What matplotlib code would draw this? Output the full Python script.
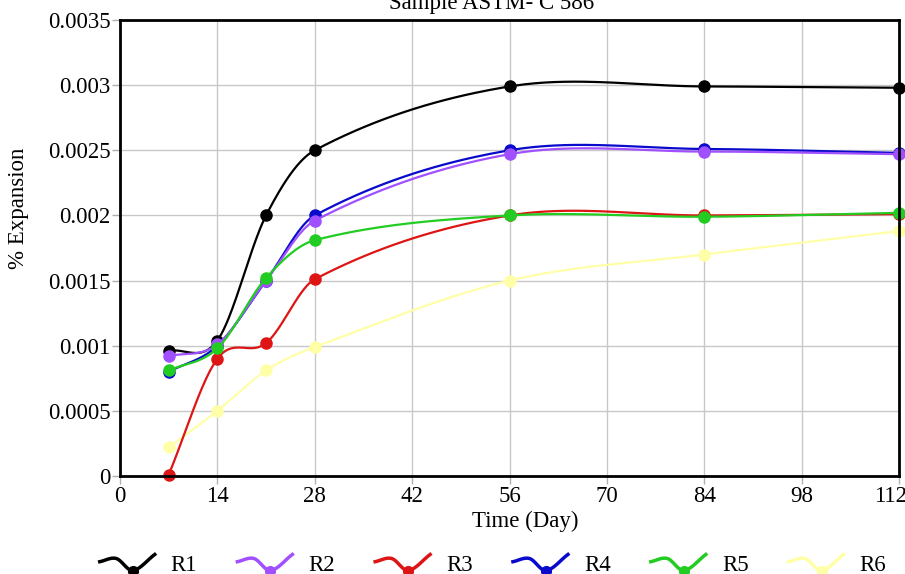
import numpy as np
import matplotlib.pyplot as plt
from matplotlib.lines import Line2D
from matplotlib.legend_handler import HandlerBase
from matplotlib.transforms import ScaledTranslation

plt.rcParams['font.family'] = ['Liberation Serif', 'DejaVu Serif']

days = [7, 14, 21, 28, 56, 84, 112]
r1 = [0.00096, 0.00104, 0.0020, 0.0025, 0.00299, 0.00299, 0.00298]
r2 = [0.00092, 0.00101, 0.00150, 0.00196, 0.00247, 0.00249, 0.00247]
r3 = [0.00001, 0.00090, 0.00102, 0.00151, 0.00200, 0.00200, 0.00201]
r4 = [0.00080, 0.00100, 0.00150, 0.00200, 0.00250, 0.00251, 0.00248]
r5 = [0.00081, 0.00098, 0.00152, 0.00181, 0.00200, 0.00199, 0.00202]
r6 = [0.00022, 0.00050, 0.00081, 0.00099, 0.00150, 0.00170, 0.00188]

labels = ['R1', 'R2', 'R3', 'R4', 'R5', 'R6']
colors = ['#000000', '#a050ff', '#dd1515', '#0a0acc', '#22cc22', '#ffffa8']
xticks = [0, 14, 28, 42, 56, 70, 84, 98, 112]
yticks = [0, 0.0005, 0.001, 0.0015, 0.002, 0.0025, 0.003, 0.0035]
yticklabels = ['0', '0.0005', '0.001', '0.0015', '0.002', '0.0025', '0.003', '0.0035']


def smooth(x, y, n=40):
    """cubic hermite curve through the points (catmull-rom style tangents)"""
    x = np.asarray(x, float)
    y = np.asarray(y, float)
    m = np.zeros_like(y)
    m[1:-1] = (y[2:] - y[:-2]) / (x[2:] - x[:-2])
    m[0] = (y[1] - y[0]) / (x[1] - x[0])
    m[-1] = (y[-1] - y[-2]) / (x[-1] - x[-2])
    xs, ys = [], []
    for i in range(len(x) - 1):
        h = x[i + 1] - x[i]
        t = np.linspace(0, 1, n)
        h00 = 2 * t**3 - 3 * t**2 + 1
        h10 = t**3 - 2 * t**2 + t
        h01 = -2 * t**3 + 3 * t**2
        h11 = t**3 - t**2
        xs.append(x[i] + t * h)
        ys.append(h00 * y[i] + h10 * h * m[i] + h01 * y[i + 1] + h11 * h * m[i + 1])
    return np.concatenate(xs), np.concatenate(ys)


class CurveHandler(HandlerBase):
    def create_artists(self, legend, orig_handle, xdescent, ydescent,
                       width, height, fontsize, trans):
        px = np.array([0.0, 0.3, 0.6, 1.0]) * width - xdescent
        py = np.array([0.55, 0.75, 0.0, 1.0]) * height - ydescent
        cx, cy = smooth(px, py, 15)
        line = Line2D(cx, cy, color=orig_handle.get_color(), lw=2.5)
        dot = Line2D([px[2]], [py[2]], marker='o', ms=7, lw=0,
                     color=orig_handle.get_color())
        line.set_transform(trans)
        dot.set_transform(trans)
        return [line, dot]


fig = plt.figure(figsize=(9.05, 5.74), dpi=100)
ax = fig.add_axes([120 / 905, 98 / 574, 779 / 905, 456 / 574])

series = [r1, r2, r3, r4, r5, r6]
order = [5, 0, 3, 1, 2, 4]
handles = [None] * 6
for i in order:
    sx, sy = smooth(days, series[i])
    ln, = ax.plot(sx, sy, color=colors[i], lw=1.6, zorder=3 + order.index(i))
    ax.plot(days, series[i], 'o', color=colors[i], ms=8, zorder=3 + order.index(i),
            clip_on=False)
    handles[i] = ln

fs = 16.5
ax.set_xlim(0, 112)
ax.set_ylim(0, 0.0035)
ax.set_xticks(xticks)
ax.set_xticklabels([str(t) for t in xticks], fontsize=fs)
ax.set_yticks(yticks)
ax.set_yticklabels(yticklabels, fontsize=fs)
ax.grid(True, color='#c8c8c8', lw=1)
ax.set_axisbelow(True)
ax.tick_params(length=6, color='#b0b0b0', width=1, pad=1)
for s in ax.spines.values():
    s.set_linewidth(2)
    s.set_zorder(10)

# last x label sits a little left of its tick in the original
last = ax.get_xticklabels()[-1]
last.set_transform(last.get_transform() + ScaledTranslation(-8 / 100, 0, fig.dpi_scale_trans))

ax.set_xlabel('Time (Day)', fontsize=fs)
ax.xaxis.set_label_coords((525 - 120) / 779, (476 - 511) / 456)
ax.set_ylabel('% Expansion', fontsize=fs)
ax.yaxis.set_label_coords((29 - 120) / 779, (476 - 208) / 456)
fig.text(492 / 905, 1 - 9 / 574, 'Sample ASTM- C 586', fontsize=fs,
         ha='center', va='baseline')

fig.legend(handles, labels, handler_map={Line2D: CurveHandler()},
           loc='center', bbox_to_anchor=(493 / 905, 1 - 565 / 574), ncol=6,
           frameon=False, fontsize=fs, handlelength=2.4, columnspacing=1.75,
           handletextpad=0.7)

fig.savefig('out.png', dpi=100)
